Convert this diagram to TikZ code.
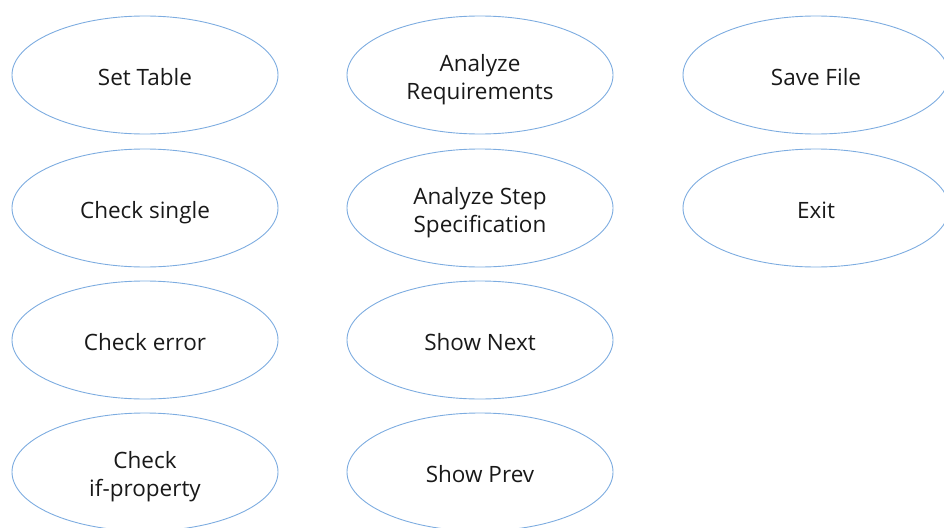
\documentclass[tikz,border=0pt]{standalone}
\usepackage{fontspec}
\setmainfont{Open Sans}
\usetikzlibrary{shapes.geometric}
\definecolor{elline}{RGB}{125,172,224}
\newcommand{\ucl}[1]{\raisebox{-4.5pt}[\height][\depth]{\begin{tabular}{@{}c@{}}#1\end{tabular}}}
\tikzset{
  uc/.style={ellipse, draw=elline, line width=0.9pt, minimum width=266pt, minimum height=118pt,
    inner sep=0pt, font=\fontsize{22.5}{28}\selectfont, text=black!90}
}
\begin{document}
\begin{tikzpicture}[x=1pt,y=-1pt]
\useasboundingbox (0,0) rectangle (944,527);
\clip (0,0) rectangle (944,527);
\node[uc] (settable) at (145,75) {\ucl{Set Table}};
\node[uc] (checksingle) at (145,208) {\ucl{Check single}};
\node[uc] (checkerror) at (145,340) {\ucl{Check error}};
\node[uc] (checkif) at (145,472) {\ucl{Check\\if-property}};
\node[uc] (anreq) at (480,75) {\ucl{Analyze\\Requirements}};
\node[uc] (anstep) at (480,208) {\ucl{Analyze Step\\Specification}};
\node[uc] (shownext) at (480,340) {\ucl{Show Next}};
\node[uc] (showprev) at (480,472) {\ucl{Show Prev}};
\node[uc] (savefile) at (816,75) {\ucl{Save File}};
\node[uc] (exit) at (816,208) {\ucl{Exit}};
\end{tikzpicture}
\end{document}
